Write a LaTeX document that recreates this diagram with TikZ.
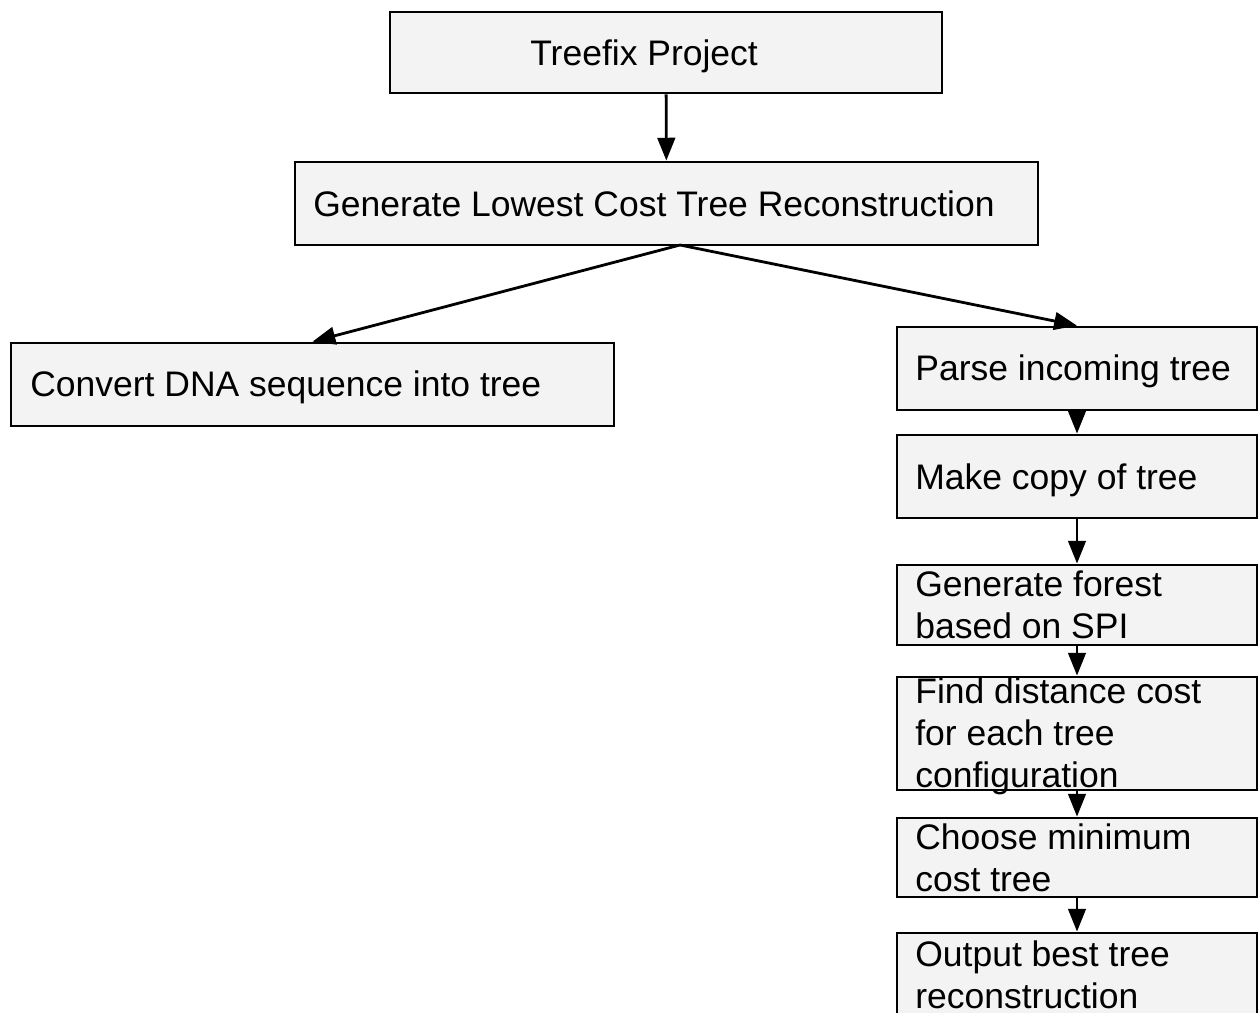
\documentclass[tikz,border=0pt]{standalone}
\usepackage{fontspec}
\setmainfont{Liberation Sans}
\usetikzlibrary{arrows.meta}
\definecolor{boxgray}{HTML}{F3F3F3}
\begin{document}
\begin{tikzpicture}[x=0.02cm,y=-0.02cm,
  box/.style={draw,line width=1.6pt,fill=boxgray,inner sep=0pt},
  txt/.style={anchor=base west,inner sep=0pt,align=left,font=\fontsize{20.2}{23.8}\selectfont},
  arr/.style={line width=1.6pt,-{Triangle[length=13pt,width=10pt]}}]
\useasboundingbox (0,0) rectangle (1258,1013);

\node[box,minimum width=11.04cm,minimum height=1.62cm] (top) at (666,52.5) {};
\node[box,minimum width=14.86cm,minimum height=1.66cm] (gen) at (666.5,203.5) {};
\node[box,minimum width=12.06cm,minimum height=1.66cm] (conv) at (312.5,384.5) {};
\node[box,minimum width=7.2cm,minimum height=1.66cm] (parse) at (1077,368.5) {};
\node[box,minimum width=7.2cm,minimum height=1.66cm] (copy) at (1077,476.5) {};
\node[box,minimum width=7.2cm,minimum height=1.6cm] (forest) at (1077,605) {};
\node[box,minimum width=7.2cm,minimum height=2.26cm] (dist) at (1077,733.5) {};
\node[box,minimum width=7.2cm,minimum height=1.58cm] (choose) at (1077,857.5) {};
\node[box,minimum width=7.2cm,minimum height=1.68cm] (out) at (1077,975) {};

% multi-line texts sit on the baseline of their last line
\node[txt] (ttop) at (530,66) {Treefix Project};
\node[txt] (tgen) at (313,217) {Generate Lowest Cost Tree Reconstruction};
\node[txt] (tconv) at (30,397) {Convert DNA sequence into tree};
\node[txt] (tparse) at (915,381) {Parse incoming tree};
\node[txt] (tcopy) at (915,490) {Make copy of tree};
\node[txt] (tforest) at (915,638) {Generate forest\\based on SPI};
\node[txt] (tdist) at (915,787) {Find distance cost\\for each tree\\configuration};
\node[txt] (tchoose) at (915,891) {Choose minimum\\cost tree};
\node[txt] (tout) at (915,1008) {Output best tree\\reconstruction};

\coordinate (fork) at (680,245);

\draw[arr] (top) -- (gen);
\draw[arr] (fork) -- (conv.north);
\draw[arr] (fork) -- (parse.north);
\draw[arr] (parse) -- (copy);
\draw[arr] (copy) -- (forest);
\draw[arr] (forest) -- (dist);
\draw[arr] (dist) -- (choose);
\draw[arr] (choose) -- (out);
\end{tikzpicture}
\end{document}
